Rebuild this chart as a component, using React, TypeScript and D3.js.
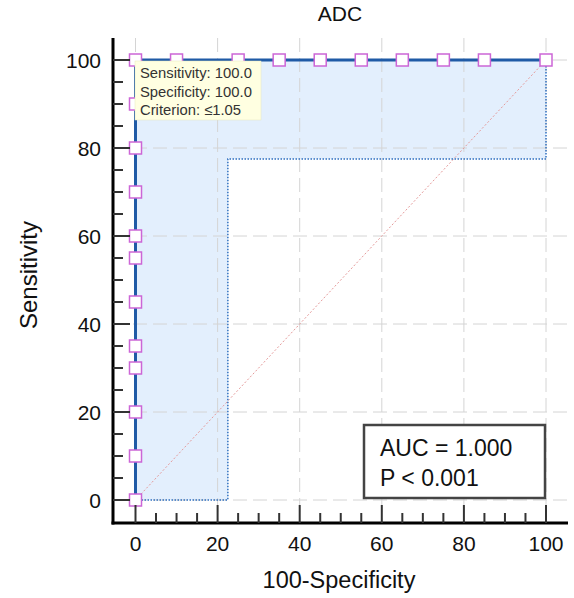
import React from "react";
import * as d3 from "d3";

const title = "ADC";
const xLabel = "100-Specificity";
const yLabel = "Sensitivity";
const majorTicks = [0, 20, 40, 60, 80, 100];
const minorTicks = d3.range(0, 101, 5);
const rocFpr = [0, 0, 100];
const rocTpr = [0, 100, 100];
const vertMarkerTpr = [0, 10, 20, 30, 35, 45, 55, 60, 70, 80, 90, 100];
const topMarkerFpr = [10, 25, 35, 45, 55, 65, 75, 85, 100];
const ciFpr = 22.5;
const ciTpr = 77.5;
const tooltipLines = ["Sensitivity: 100.0", "Specificity: 100.0", "Criterion: \u22641.05"];
const statLines = ["AUC = 1.000", "P < 0.001"];

const W = 574;
const H = 598;
const FONT = "'Liberation Sans', Arial, sans-serif";

export default function App() {
  const x = d3.scaleLinear().domain([0, 100]).range([135.5, 546]);
  const y = d3.scaleLinear().domain([0, 100]).range([500, 60]);
  const axisX = 113;
  const axisY = 523;
  const top = 38;
  const right = 568;

  const curve = d3
    .line<number>()
    .x((_, i) => x(rocFpr[i]))
    .y((_, i) => y(rocTpr[i]))(rocFpr.map((v) => v)) as string;

  const fillPath = [
    `M${x(0)},${y(0)}`,
    `L${x(0)},${y(100)}`,
    `L${x(100)},${y(100)}`,
    `L${x(100)},${y(ciTpr)}`,
    `L${x(ciFpr)},${y(ciTpr)}`,
    `L${x(ciFpr)},${y(0)}`,
    "Z",
  ].join(" ");
  const ciPath = [
    `M${x(100)},${y(100)}`,
    `L${x(100)},${y(ciTpr)}`,
    `L${x(ciFpr)},${y(ciTpr)}`,
    `L${x(ciFpr)},${y(0)}`,
    `L${x(0)},${y(0)}`,
  ].join(" ");

  const markers: [number, number][] = [
    ...vertMarkerTpr.map((t) => [0, t] as [number, number]),
    ...topMarkerFpr.map((f) => [f, 100] as [number, number]),
  ];
  const ms = 12;

  return (
    <svg width={W} height={H} style={{ position: "absolute", left: 0, top: 0, background: "#fff" }} fontFamily={FONT}>
      <rect x={0} y={0} width={W} height={H} fill="#fff" />
      <path d={fillPath} fill="#e3effd" />
      {majorTicks.map((t) => (
        <line key={"gx" + t} x1={x(t)} x2={x(t)} y1={top} y2={axisY} stroke="#d4d4d4" strokeWidth={1} strokeDasharray="14 6" />
      ))}
      {majorTicks.map((t) => (
        <line key={"gy" + t} x1={axisX} x2={right} y1={y(t)} y2={y(t)} stroke="#d4d4d4" strokeWidth={1} strokeDasharray="14 6" />
      ))}
      <line x1={x(0)} y1={y(0)} x2={x(100)} y2={y(100)} stroke="#e59a9a" strokeWidth={1} strokeDasharray="2 2" />
      <path d={ciPath} fill="none" stroke="#2f6fc0" strokeWidth={1.5} strokeDasharray="1.5 1.5" />
      <path d={curve} fill="none" stroke="#1f5aa6" strokeWidth={3} />
      {markers.map(([f, t], i) => (
        <rect key={"m" + i} x={x(f) - ms / 2} y={y(t) - ms / 2} width={ms} height={ms} fill="#fff" stroke="#cc66d6" strokeWidth={1.5} />
      ))}
      <line x1={axisX} x2={axisX} y1={top} y2={axisY + 1.5} stroke="#000" strokeWidth={3} />
      <line x1={axisX - 1.5} x2={right} y1={axisY} y2={axisY} stroke="#000" strokeWidth={3} />
      {minorTicks.map((t) => {
        const major = t % 20 === 0;
        return (
          <g key={"t" + t}>
            <line x1={axisX} x2={axisX + (major ? 17 : 10)} y1={y(t)} y2={y(t)} stroke="#333" strokeWidth={2} />
            <line x1={x(t)} x2={x(t)} y1={axisY} y2={axisY - (major ? 18 : 10)} stroke="#333" strokeWidth={2} />
          </g>
        );
      })}
      {majorTicks.map((t) => (
        <text key={"ly" + t} x={101} y={y(t)} dy="0.36em" textAnchor="end" fontSize={21} fill="#111">
          {t}
        </text>
      ))}
      {majorTicks.map((t) => (
        <text key={"lx" + t} x={x(t)} y={551} textAnchor="middle" fontSize={21} fill="#111">
          {t}
        </text>
      ))}
      <text x={339} y={588} textAnchor="middle" fontSize={23.5} fill="#111">
        {xLabel}
      </text>
      <text transform={`translate(37,275) rotate(-90)`} textAnchor="middle" fontSize={24} fill="#111">
        {yLabel}
      </text>
      <text x={340} y={21} textAnchor="middle" fontSize={21} fill="#111">
        {title}
      </text>
      <rect x={135} y={61} width={126} height={59} fill="#ffffe1" stroke="#e6e6c0" strokeWidth={0.5} />
      {tooltipLines.map((s, i) => (
        <text key={"tt" + i} x={140} y={78 + i * 18.5} fontSize={14.8} fill="#333">
          {s}
        </text>
      ))}
      <rect x={364} y={425} width={181} height={73} fill="#fff" stroke="#444" strokeWidth={2.5} />
      {statLines.map((s, i) => (
        <text key={"st" + i} x={380} y={456 + i * 30} fontSize={23} fill="#111">
          {s}
        </text>
      ))}
    </svg>
  );
}
